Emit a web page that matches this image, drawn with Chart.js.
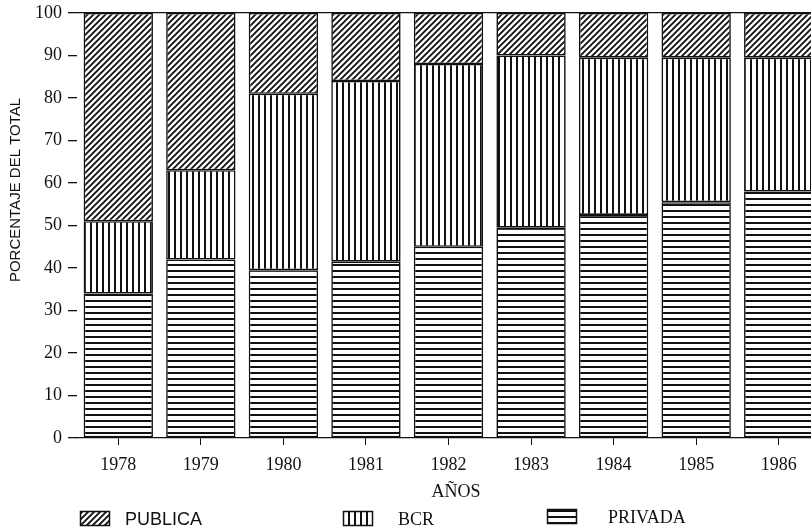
<!DOCTYPE html>
<html>
<head>
<meta charset="utf-8">
<script src="https://cdn.jsdelivr.net/npm/chart.js@4.4.1/dist/chart.umd.min.js"></script>
<style>
  body { margin: 0; background: #fff; }
  #wrap { width: 811px; height: 529px; overflow: hidden; }
</style>
</head>
<body>
<div id="wrap"><canvas id="chart" width="820" height="529"></canvas></div>
<script>
const years = ['1978', '1979', '1980', '1981', '1982', '1983', '1984', '1985', '1986'];
const privada = [34, 42, 39.5, 41.5, 45, 49.5, 52.5, 55.5, 58];
const bcr = [17, 21, 41.5, 42.5, 43, 40.5, 37, 34, 31.5];
const publica = [49, 37, 19, 16, 12, 10, 10.5, 10.5, 10.5];
const yTicks = [0, 10, 20, 30, 40, 50, 60, 70, 80, 90, 100];

const ink = '#111';
const ctx = document.getElementById('chart').getContext('2d');

function makePattern(w, h, draw) {
  const c = document.createElement('canvas');
  c.width = w;
  c.height = h;
  const p = c.getContext('2d');
  p.fillStyle = '#fff';
  p.fillRect(0, 0, w, h);
  p.fillStyle = ink;
  p.strokeStyle = ink;
  draw(p);
  return ctx.createPattern(c, 'repeat');
}

// horizontal lines for PRIVADA
const horizPattern = makePattern(6, 6, p => p.fillRect(0, 0, 6, 2));
// vertical lines for BCR
const vertPattern = makePattern(6, 6, p => p.fillRect(0, 0, 2, 6));
// diagonal hatch for PUBLICA
const diagPattern = makePattern(6, 6, p => {
  p.lineWidth = 1.9;
  p.beginPath();
  p.moveTo(-1, 7); p.lineTo(7, -1);
  p.moveTo(-4, 4); p.lineTo(4, -4);
  p.moveTo(2, 10); p.lineTo(10, 2);
  p.stroke();
});

const legendItems = [
  { label: 'PUBLICA', pattern: diagPattern, x: 80, y: 511, font: '18px "Liberation Sans", Arial, sans-serif', tx: 125 },
  { label: 'BCR', pattern: vertPattern, x: 343, y: 511, font: '18px "Liberation Serif", "Times New Roman", serif', tx: 398 },
  { label: 'PRIVADA', pattern: horizPattern, x: 547, y: 509, font: '18px "Liberation Serif", "Times New Roman", serif', tx: 608 }
];

const extraText = {
  id: 'extraText',
  afterDraw(chart) {
    const c = chart.ctx;
    c.save();
    c.fillStyle = ink;
    // y title
    c.font = '15px "Liberation Sans", Arial, sans-serif';
    c.textAlign = 'center';
    c.textBaseline = 'middle';
    c.save();
    c.translate(16, 190);
    c.rotate(-Math.PI / 2);
    c.fillText('PORCENTAJE DEL TOTAL', 0, 0);
    c.restore();
    // x title
    c.font = '18px "Liberation Serif", "Times New Roman", serif';
    c.fillText('AÑOS', 456, 492);
    // legend
    legendItems.forEach(item => {
      c.fillStyle = item.pattern;
      c.fillRect(item.x, item.y, 30, 15);
      c.strokeStyle = ink;
      c.lineWidth = 1.5;
      c.strokeRect(item.x + 0.5, item.y + 0.5, 29, 14);
      c.fillStyle = ink;
      c.font = item.font;
      c.textAlign = 'left';
      c.textBaseline = 'middle';
      c.fillText(item.label, item.tx, item.y + 9);
    });
    c.restore();
  }
};

new Chart(ctx, {
  type: 'bar',
  data: {
    labels: years,
    datasets: [{
      label: 'PRIVADA',
      data: privada,
      backgroundColor: horizPattern
    }, {
      label: 'BCR',
      data: bcr,
      backgroundColor: vertPattern
    }, {
      label: 'PUBLICA',
      data: publica,
      backgroundColor: diagPattern
    }]
  },
  options: {
    responsive: false,
    animation: false,
    layout: { padding: { top: 13, right: 0, bottom: 0, left: 0 } },
    datasets: {
      bar: {
        borderColor: ink,
        borderWidth: 1.6,
        borderSkipped: false,
        barPercentage: 0.84,
        categoryPercentage: 1
      }
    },
    plugins: {
      legend: { display: false },
      tooltip: { enabled: false }
    },
    scales: {
      x: {
        stacked: true,
        afterFit: scale => { scale.height = 91; },
        border: { display: true, color: ink, width: 1.3 },
        grid: {
          offset: false,
          drawOnChartArea: false,
          drawTicks: true,
          tickLength: 7,
          tickColor: ink
        },
        ticks: {
          color: ink,
          padding: 9,
          font: { family: '"Liberation Serif", "Times New Roman", serif', size: 18 }
        }
      },
      y: {
        stacked: true,
        min: 0,
        max: 100,
        afterFit: scale => {
          scale.width = 77;
          scale.paddingTop = 0;
          scale.paddingBottom = 0;
        },
        afterBuildTicks: scale => { scale.ticks = yTicks.map(v => ({ value: v })); },
        border: { display: false },
        grid: {
          color: c => (c.tick && c.tick.value === 100 ? ink : 'rgba(0,0,0,0)'),
          tickColor: ink,
          tickLength: 9,
          lineWidth: 1.3
        },
        ticks: {
          color: ink,
          padding: 6,
          font: { family: '"Liberation Serif", "Times New Roman", serif', size: 18 }
        }
      }
    }
  },
  plugins: [extraText]
});
</script>
</body>
</html>
